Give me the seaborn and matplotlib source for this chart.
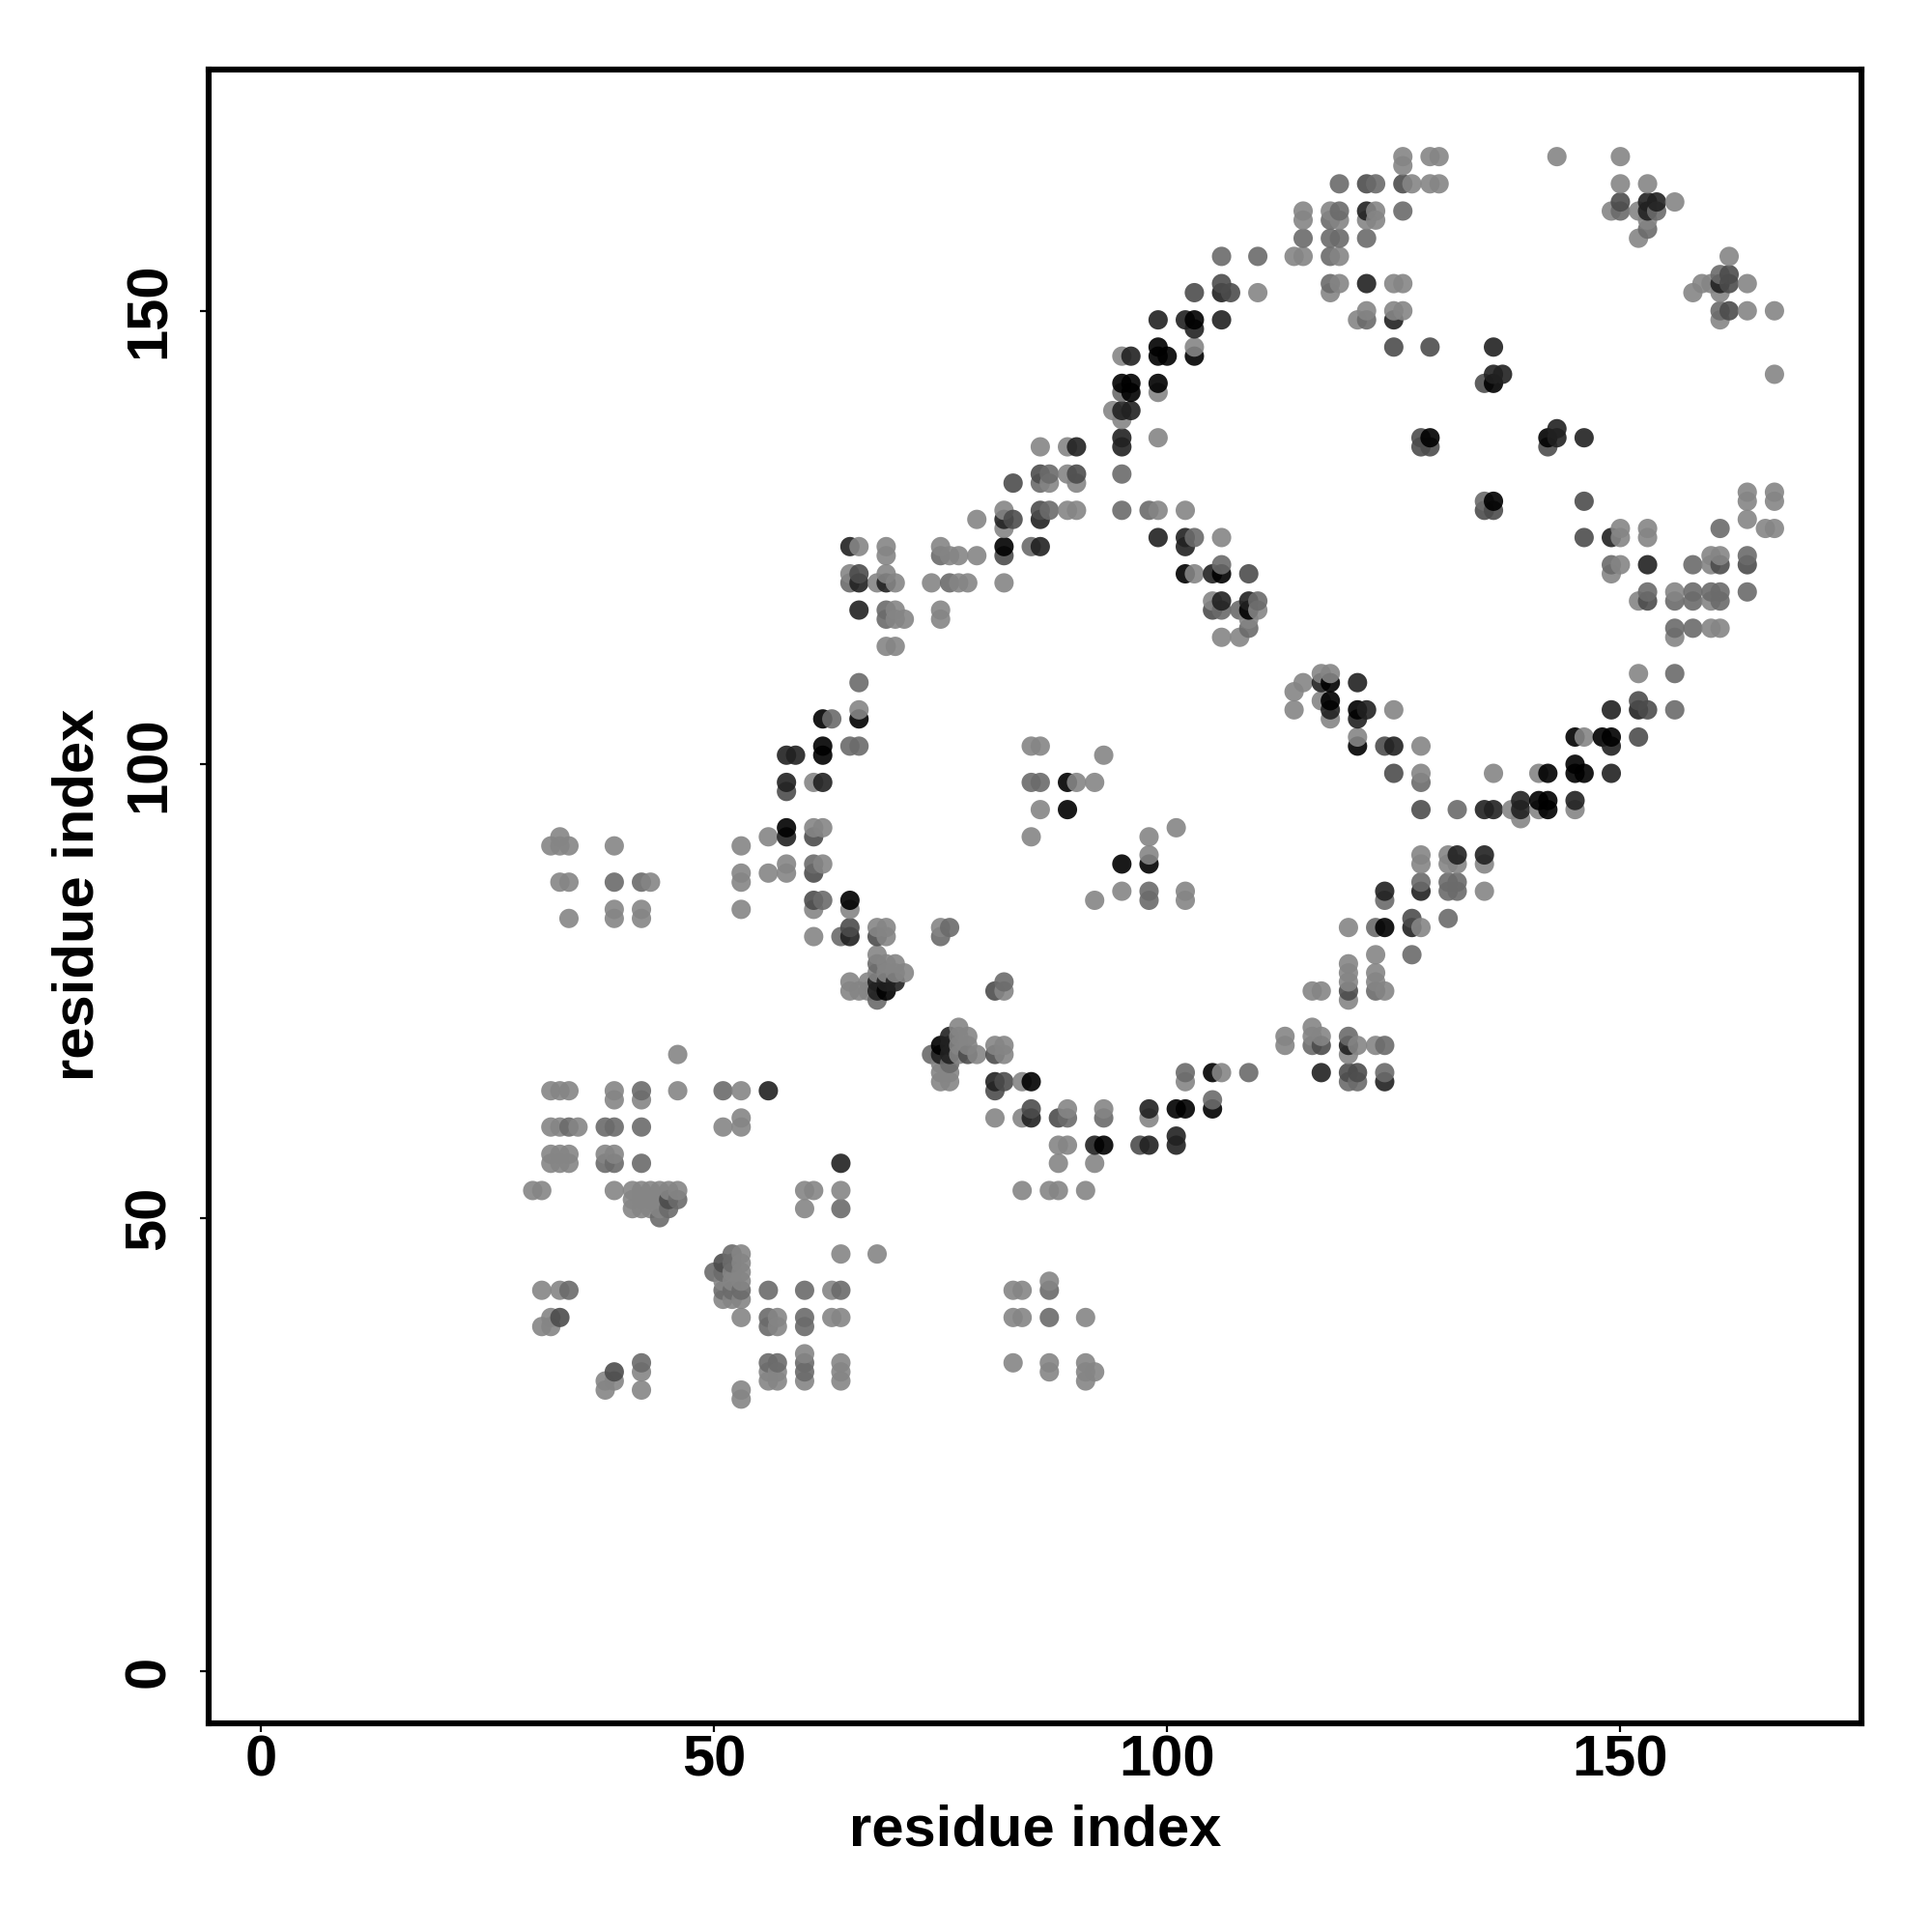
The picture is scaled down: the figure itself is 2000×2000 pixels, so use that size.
import matplotlib
matplotlib.use("Agg")
import matplotlib.pyplot as plt
import pandas as pd
import seaborn as sns

# contacts (x, y) grouped by how dark the dot is
light_pts = [
    (46,68),(32,64),(33,64),(34,64),(39,64),(46,64),(53,64),(39,63),(42,63),(53,61),(32,60),(33,60),(35,60),
    (51,60),(53,60),(32,57),(33,57),(34,57),(38,57),(39,57),(32,56),(33,56),(34,56),(30,53),(31,53),(39,53),
    (41,53),(42,53),(43,53),(44,53),(45,53),(46,53),(60,53),(61,53),(64,53),(41,52),(42,52),(43,52),(44,52),
    (41,51),(42,51),(43,51),(44,51),(60,51),(53,46),(64,46),(68,46),(53,45),(52,44),(53,44),(51,43),(52,43),
    (53,43),(51,41),(52,41),(53,41),(31,42),(33,42),(63,42),(53,39),(57,39),(63,39),(64,39),(32,39),(31,38),
    (32,38),(57,38),(60,35),(64,34),(42,33),(56,33),(57,33),(64,33),(38,32),(39,32),(56,32),(57,32),(60,32),
    (64,32),(38,31),(42,31),(53,31),(53,30),
    (77,71),(78,70),(77,70),(77,69),(78,69),(77,68),(79,68),(75,67),(75,66),(76,66),(75,65),(76,65),(82,69),
    (82,68),(84,65),(81,61),(84,61),(89,62),(93,62),(98,61),(102,65),(106,66),(88,58),(89,58),(88,56),(92,56),
    (84,53),(87,53),(88,53),(91,53),(83,42),(84,42),(87,43),(83,39),(84,39),(91,39),(83,34),(87,34),(87,33),
    (91,34),(91,33),(92,33),(91,32),
    (33,92),(32,91),(33,91),(34,91),(39,91),(33,87),(34,87),(43,87),(34,83),(39,84),(39,83),(42,84),(42,83),
    (53,91),(53,88),(53,87),(53,84),(56,92),(56,88),(58,89),(58,88),(61,93),(62,93),(62,89),(61,84),(61,81),
    (65,84),(68,82),(69,82),(69,81),(75,82),(68,79),(69,78),(70,78),(68,77),(69,77),(70,77),(71,77),(65,76),
    (65,75),(66,75),(67,76),(67,75),
    (79,127),(66,124),(69,124),(75,124),(69,123),(76,123),(77,123),(79,123),(65,121),(69,121),(68,120),(70,120),
    (74,120),(77,120),(78,120),(82,120),(70,117),(75,117),(70,116),(71,116),(75,116),(69,113),(70,113),(66,106),
    (85,102),(86,102),(93,101),(61,98),(90,98),(92,98),(86,95),(85,92),(95,86),(92,85),(98,90),(98,92),(101,93),
    (102,86),(102,85),(82,75),(81,69),(82,126),
    (86,135),(89,135),(87,131),(89,132),(90,131),(82,128),(89,128),(90,128),
    (120,82),(123,79),(120,78),(120,77),(120,76),(120,74),(123,77),(123,76),(124,75),(116,75),(117,75),(113,70),
    (113,69),(116,71),(116,70),(117,70),(121,69),(120,68),(123,69),(128,82),
    (114,156),(115,156),(119,156),(119,153),(125,153),(126,153),(110,152),(118,152),(122,150),(125,150),(126,150),
    (121,149),(103,146),(95,145),(99,141),(94,139),(95,138),(99,136),(99,128),(102,128),(106,125),(103,121),
    (105,118),(110,117),(109,116),(106,114),(108,114),
    (150,126),(150,125),(153,126),(153,125),(164,127),(166,126),(167,126),(164,130),(164,129),(167,130),(167,129),
    (150,122),(149,121),(160,123),(160,122),(161,123),(152,118),(156,119),(160,118),(156,114),(160,115),(161,115),
    (152,110),(146,103),(136,99),(141,99),(138,95),(139,94),(141,95),(145,95),
    (143,167),(150,167),(150,164),(153,164),(149,161),(152,161),(156,162),(153,160),(152,158),(162,156),(159,153),
    (160,153),(164,153),(158,152),(161,152),(164,150),(167,150),(161,149),(167,143),
    (126,167),(129,167),(130,167),(126,166),(127,164),(129,164),(130,164),(115,161),(118,161),(123,161),(115,160),
    (119,160),(122,160),(123,160),
    (114,108),(115,109),(114,106),(117,110),(118,110),(117,107),(118,105),(121,103),(125,106),(128,102),(128,99),
    (128,90),(128,89),(131,90),(131,89),(132,89),(135,89),(135,86),
]
mid_pts = [
    (42,64),(51,64),(34,60),(38,60),(39,60),(42,60),(38,56),(39,56),(42,56),(46,52),(45,51),(64,51),(44,50),(52,46),
    (52,45),(50,44),(51,44),(51,42),(52,42),(53,42),(34,42),(56,42),(60,42),(64,42),(56,39),(60,39),(56,38),(60,38),
    (42,34),(56,34),(57,34),(60,34),(60,33),
    (74,68),(76,67),(102,66),(109,66),(105,63),(87,42),(87,39),(89,61),(93,61),
    (39,87),(42,87),(61,89),(62,85),(64,81),(76,82),(75,81),(68,78),(68,74),
    (85,124),(75,123),(65,120),(76,120),(69,117),(69,116),(66,109),(63,105),(65,102),(66,102),(85,98),(86,98),
    (82,76),(87,132),(86,131),(87,128),(98,86),(98,85),
    (123,82),(127,79),(123,75),(116,69),(120,70),(124,69),(124,66),(120,65),(121,65),
    (106,156),(110,156),(118,156),(118,153),(122,149),(95,141),(95,132),(95,128),(98,128),(103,125),(106,122),
    (110,118),(106,117),(108,117),(109,115),
    (135,129),(161,126),(149,122),(158,122),(164,123),(153,119),(156,118),(158,119),(158,118),(160,119),(161,119),
    (161,118),(164,119),(156,115),(158,115),(156,110),(156,106),(132,95),
    (150,161),(154,161),(153,159),(161,154),(161,150),
    (119,164),(123,164),(126,161),(119,161),(118,160),(115,158),(118,158),(119,158),(122,158),
    (128,87),(128,98),(131,87),(132,87),(131,86),(132,86),(124,85),(131,83),
]
dark_pts = [
    (45,52),(51,45),(33,39),(39,33),
    (81,68),(78,68),(82,65),(81,64),(85,62),(88,61),(97,58),
    (61,92),(61,88),(61,85),(65,82),(68,81),
    (83,127),(82,123),(66,121),(58,97),
    (81,75),(120,66),(121,66),(117,69),(120,75),
    (83,131),(86,132),(90,132),(86,128),
    (106,153),(103,152),(107,152),(125,146),(129,146),(128,136),(128,135),(129,135),(109,121),(105,117),
    (135,128),(136,128),(146,129),(146,125),(161,122),(164,122),(153,118),(152,107),(153,106),(152,103),
    (142,135),(135,142),(150,162),(162,154),(162,153),(162,150),
    (122,164),(126,164),
    (124,102),(125,99),(128,95),(127,83),
]
black_pts = [
    (56,64),(64,56),(76,70),(76,69),(75,68),(76,68),(81,65),(85,61),(98,62),(101,59),(101,58),(98,58),(92,58),
    (58,92),(65,81),(68,76),(69,76),(70,76),(68,75),
    (82,127),(86,127),(65,124),(86,124),(66,120),(69,120),(66,117),(58,101),(59,101),(58,98),(62,98),
    (90,135),
    (117,66),(120,69),(124,65),(127,82),
    (103,148),(99,149),(102,149),(106,149),(125,149),(122,153),(106,152),(96,145),(95,139),(96,139),(95,136),(95,135),
    (99,125),(102,125),(102,124),(105,121),(106,118),(109,118),(146,136),(143,137),(143,136),
    (149,125),(153,122),(149,106),(152,106),(149,102),(149,99),(135,95),(136,95),(139,96),(139,95),(145,96),
    (153,162),(154,162),(153,161),(161,153),(136,146),(136,143),(137,143),
    (117,109),(118,106),(121,109),(121,105),(122,106),(125,102),
    (122,161),(124,86),(128,86),(132,90),(135,90),
]
ink_pts = [
    (75,69),(85,65),(101,62),(102,62),(105,62),(105,66),(93,58),
    (58,93),(65,85),(69,75),
    (82,124),(62,105),(66,105),(62,102),(62,101),(89,98),(89,95),(95,89),(98,89),
    (103,149),(99,146),(99,145),(100,145),(103,145),(95,142),(96,142),(99,142),(96,141),
    (129,136),(102,121),(106,121),(109,117),(118,109),(121,106),(121,102),
    (136,129),(145,103),(148,103),(149,103),(145,100),(145,99),(146,99),(142,99),(141,96),(142,96),(142,95),
    (136,142),(142,136),(118,107),(124,82),
]
shade_levels = [0.52, 0.42, 0.30, 0.13, 0.0]
tick_values = [0, 50, 100, 150]

groups = [light_pts, mid_pts, dark_pts, black_pts, ink_pts]
rows = []
for pts, shade in zip(groups, shade_levels):
    for px, py in pts:
        rows.append({"x": px, "y": py, "shade": shade})
df = pd.DataFrame(rows)
# darkest reading wins if a contact got listed twice
df = df.sort_values("shade").drop_duplicates(["x", "y"])
df = df.sort_values(["x", "y"])

sns.set_theme(style="white")
plt.rcParams["font.family"] = ["Liberation Sans", "DejaVu Sans"]

fig = plt.figure(figsize=(10, 10), dpi=200)
ax = fig.add_axes([216 / 2000, 1 - 1784 / 2000, (1927 - 216) / 2000, (1784 - 72) / 2000])
sns.scatterplot(data=df, x="x", y="y", hue="shade", palette="gray", hue_norm=(0, 1),
                s=52, linewidth=0, alpha=0.9, legend=False, ax=ax)

ax.set_xlim(-5.75, 176.6)
ax.set_ylim(-5.75, 176.6)
ax.set_xticks(tick_values)
ax.set_yticks(tick_values)
ax.tick_params(axis="both", bottom=True, left=True, length=3.1, width=0.8, color="black",
               labelsize=21.5, labelcolor="black")
ax.tick_params(axis="x", pad=1.2)
ax.tick_params(axis="y", pad=9)
for lab in ax.get_xticklabels() + ax.get_yticklabels():
    lab.set_fontweight("bold")
for lab in ax.get_yticklabels():
    lab.set_rotation(90)
    lab.set_va("center")
for side in ax.spines.values():
    side.set_linewidth(2.2)
    side.set_color("black")
ax.set_xlabel("")
ax.set_ylabel("")
fig.text(1072 / 2000, 1 - 1895 / 2000, "residue index", ha="center", va="center",
         fontsize=21.5, fontweight="bold", color="black")
fig.text(81 / 2000, 1 - 926 / 2000, "residue index", ha="center", va="center", rotation=90,
         fontsize=21.5, fontweight="bold", color="black")

fig.savefig("out.png", dpi=200, facecolor="white")
